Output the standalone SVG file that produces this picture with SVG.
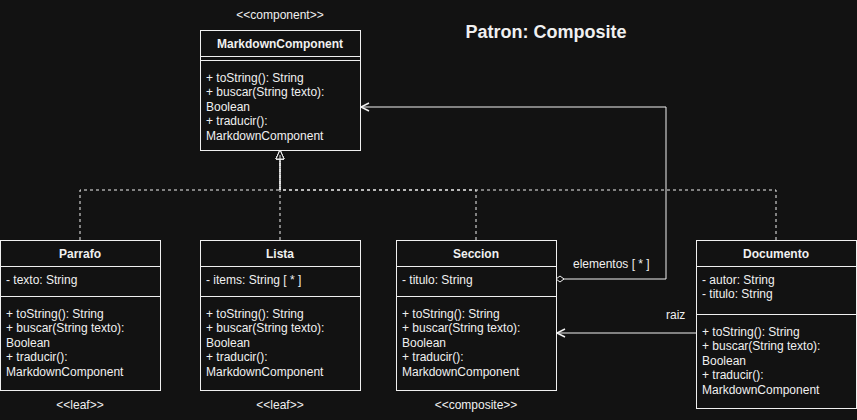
<svg xmlns="http://www.w3.org/2000/svg" width="857" height="420" viewBox="0 0 857 420">
<defs>
<style>
.box{fill:#121212;stroke:#f0f0f0;stroke-width:1}
.ln{stroke:#f0f0f0;stroke-width:1;fill:none}
.dash{stroke:#f0f0f0;stroke-width:1;fill:none;stroke-dasharray:3 3}
text{font-family:"Liberation Sans",Arial,sans-serif;font-size:12px;fill:#f0f0f0}
.t{font-weight:bold;text-anchor:middle}
.c{text-anchor:middle;font-size:12px}
.title{font-weight:bold;font-size:18px;text-anchor:middle}
</style>
<marker id="tri" markerWidth="12" markerHeight="12" refX="10" refY="5" orient="auto" markerUnits="userSpaceOnUse" viewBox="0 0 12 10">
<path d="M1,1 L10,5 L1,9 Z" fill="#121212" stroke="#f0f0f0" stroke-width="1"/>
</marker>
<marker id="open" markerWidth="12" markerHeight="12" refX="10" refY="5" orient="auto" markerUnits="userSpaceOnUse" viewBox="0 0 12 10">
<path d="M2,1 L10,5 L2,9" fill="none" stroke="#f0f0f0" stroke-width="1.5"/>
</marker>
<marker id="dia" markerWidth="14" markerHeight="10" refX="1" refY="5" orient="auto" markerUnits="userSpaceOnUse" viewBox="0 0 14 10">
<path d="M1,5 L5,2 L9,5 L5,8 Z" fill="#121212" stroke="#f0f0f0" stroke-width="1"/>
</marker>
</defs>
<rect width="857" height="420" fill="#121212"/>
<text class="title" x="546" y="38">Patron: Composite</text>

<g id="connectors">
<path class="dash" d="M80,240 V190 H280 V150" marker-end="url(#tri)"/>
<path class="dash" d="M280,240 V150" marker-end="url(#tri)"/>
<path class="dash" d="M476,240 V190 H280 V150" marker-end="url(#tri)"/>
<path class="dash" d="M776,240 V190 H280 V150" marker-end="url(#tri)"/>
<path class="ln" d="M280,190 V155"/>
<path class="ln" d="M556,279 H666 V107 H361" marker-start="url(#dia)" marker-end="url(#open)"/>
<text x="573" y="268">elementos [ * ]</text>
<path class="ln" d="M696,333 H557" marker-end="url(#open)"/>
<text x="666" y="319">raiz</text>
</g>

<g id="MarkdownComponent">
<text class="c" x="280" y="19">&lt;&lt;component&gt;&gt;</text>
<rect class="box" x="200.5" y="30.5" width="160" height="120"/>
<path class="ln" d="M200.5,56.5 H360.5 M200.5,60.5 H360.5"/>
<text class="t" x="280" y="48">MarkdownComponent</text>
<text x="206" y="82">+ toString(): String</text>
<text x="206" y="96">+ buscar(String texto):</text>
<text x="206" y="111">Boolean</text>
<text x="206" y="125">+ traducir():</text>
<text x="206" y="140">MarkdownComponent</text>
</g>

<g id="Parrafo">
<rect class="box" x="0.5" y="240.5" width="160" height="150"/>
<path class="ln" d="M0.5,266.5 H160.5 M0.5,296.5 H160.5"/>
<text class="t" x="80" y="258">Parrafo</text>
<text x="6" y="284">- texto: String</text>
<text x="6" y="318">+ toString(): String</text>
<text x="6" y="332">+ buscar(String texto):</text>
<text x="6" y="347">Boolean</text>
<text x="6" y="361">+ traducir():</text>
<text x="6" y="376">MarkdownComponent</text>
<text class="c" x="80" y="409">&lt;&lt;leaf&gt;&gt;</text>
</g>

<g id="Lista">
<rect class="box" x="200.5" y="240.5" width="160" height="150"/>
<path class="ln" d="M200.5,266.5 H360.5 M200.5,296.5 H360.5"/>
<text class="t" x="280" y="258">Lista</text>
<text x="206" y="284">- items: String [ * ]</text>
<text x="206" y="318">+ toString(): String</text>
<text x="206" y="332">+ buscar(String texto):</text>
<text x="206" y="347">Boolean</text>
<text x="206" y="361">+ traducir():</text>
<text x="206" y="376">MarkdownComponent</text>
<text class="c" x="280" y="409">&lt;&lt;leaf&gt;&gt;</text>
</g>

<g id="Seccion">
<rect class="box" x="396.5" y="240.5" width="160" height="150"/>
<path class="ln" d="M396.5,266.5 H556.5 M396.5,296.5 H556.5"/>
<text class="t" x="476" y="258">Seccion</text>
<text x="402" y="284">- titulo: String</text>
<text x="402" y="318">+ toString(): String</text>
<text x="402" y="332">+ buscar(String texto):</text>
<text x="402" y="347">Boolean</text>
<text x="402" y="361">+ traducir():</text>
<text x="402" y="376">MarkdownComponent</text>
<text class="c" x="476" y="409">&lt;&lt;composite&gt;&gt;</text>
</g>

<g id="Documento">
<rect class="box" x="696.5" y="240.5" width="160" height="168"/>
<path class="ln" d="M696.5,266.5 H856.5 M696.5,314.5 H856.5"/>
<text class="t" x="776" y="258">Documento</text>
<text x="702" y="284">- autor: String</text>
<text x="702" y="298">- titulo: String</text>
<text x="702" y="336">+ toString(): String</text>
<text x="702" y="350">+ buscar(String texto):</text>
<text x="702" y="365">Boolean</text>
<text x="702" y="379">+ traducir():</text>
<text x="702" y="394">MarkdownComponent</text>
</g>
</svg>
